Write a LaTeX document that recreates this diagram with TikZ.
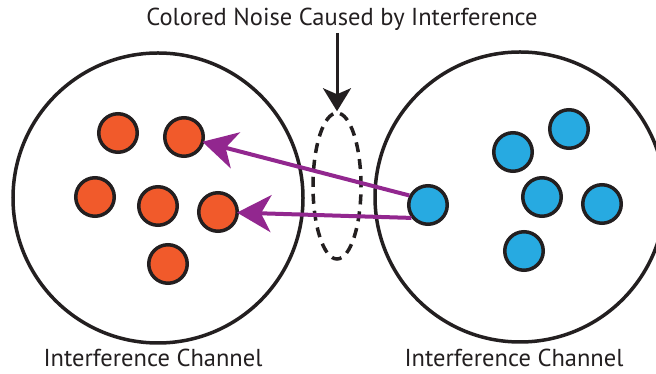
\documentclass[tikz,border=0pt]{standalone}
\usepackage{fontspec}
\setmainfont{PT Sans}
\usetikzlibrary{arrows.meta,shapes.geometric}
\definecolor{dotorange}{HTML}{F15A2B}
\definecolor{dotblue}{HTML}{27AAE1}
\definecolor{arrowpurple}{HTML}{92278F}
\definecolor{inkblack}{HTML}{231F20}
\begin{document}
\begin{tikzpicture}[x=1pt,y=1pt,
  channel/.style={draw=inkblack,line width=3.5pt,circle,minimum size=290pt,inner sep=0pt},
  odot/.style={draw=inkblack,fill=dotorange,line width=3.5pt,circle,minimum size=38.5pt,inner sep=0pt},
  bdot/.style={draw=inkblack,fill=dotblue,line width=3.5pt,circle,minimum size=38.5pt,inner sep=0pt},
  noise/.style={draw=inkblack,line width=3.5pt,dash pattern=on 10pt off 7pt,ellipse,minimum width=48pt,minimum height=146pt,inner sep=0pt},
  purplearrow/.style={draw=arrowpurple,line width=4pt,-{Stealth[length=34pt,width=37pt,inset=10pt]},shorten >=-2pt},
  blackarrow/.style={draw=inkblack,line width=3pt,-{Stealth[length=23pt,width=28pt,inset=6pt]}},
  label/.style={font=\fontsize{24.5}{28}\selectfont,text=inkblack,anchor=base,inner sep=0pt}
]
\useasboundingbox (0,0) rectangle (656,374);
\node[channel] (lc) at (158,176) {};
\node[channel] (rc) at (520,177) {};
% orange dots
\node[odot] (o1) at (118,241) {};
\node[odot] (o2) at (184,237) {};
\node[odot] (o3) at (95,177) {};
\node[odot] (o4) at (158,168) {};
\node[odot] (o5) at (218,162) {};
\node[odot] (o6) at (168,110) {};
% blue dots
\node[bdot] (b1) at (513,222) {};
\node[bdot] (b2) at (569,245) {};
\node[bdot] (b3) at (542,177) {};
\node[bdot] (b4) at (602,170) {};
\node[bdot] (b5) at (524,123) {};
\node[bdot] (src) at (428,169) {};
% noise region
\node[noise] (nz) at (337,188) {};
% texts
\node[label] (title) at (342,348) {Colored Noise Caused by Interference};
\node[label] (ll) at (153,7) {Interference Channel};
\node[label] (rl) at (514,7) {Interference Channel};
\coordinate (arrowtop) at (337,341);
\draw[blackarrow] (arrowtop) -- (nz.north);
% interference arrows
\draw[purplearrow] (src.153) -- (o2);
\draw[purplearrow] (src.218) -- (o5);
\end{tikzpicture}
\end{document}
